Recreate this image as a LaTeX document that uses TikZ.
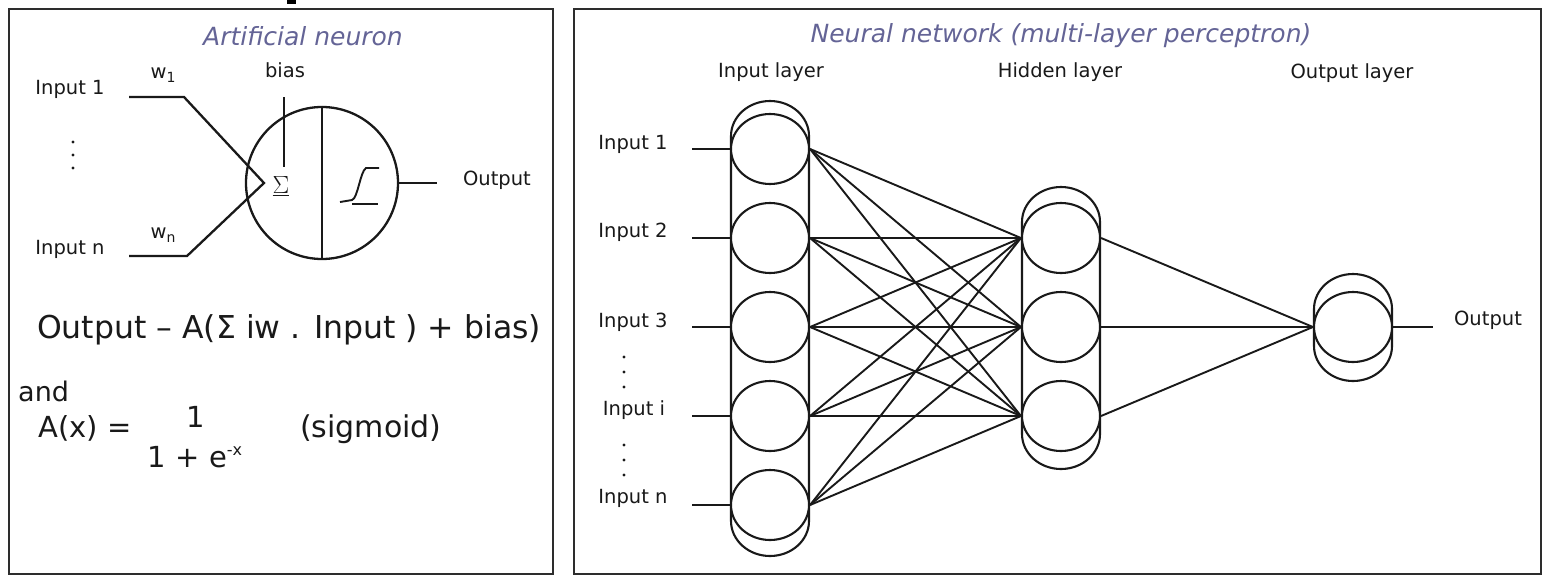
\documentclass[tikz,border=0pt]{standalone}
\usepackage{fontspec}
\setmainfont{DejaVu Sans}
\usetikzlibrary{shapes.geometric}
\definecolor{titlecol}{RGB}{100,100,150}
\definecolor{framecol}{RGB}{45,45,45}
\definecolor{inkcol}{RGB}{25,25,25}
\newcommand{\subsc}[1]{\raisebox{-4pt}{\fontsize{14}{14}\selectfont #1}}
\begin{document}
\begin{tikzpicture}[x=1pt,y=-1pt,
  panel/.style={draw=framecol, line width=2.6pt},
  wire/.style={draw=inkcol, line width=1.9pt},
  thickwire/.style={draw=inkcol, line width=2.3pt},
  neuron/.style={ellipse, draw=inkcol, line width=2.1pt, fill=white, minimum width=78pt, minimum height=70pt, inner sep=0pt},
  lbl/.style={font=\fontsize{19.5}{22}\selectfont, text=inkcol, inner sep=0pt},
  ttl/.style={font=\fontsize{25}{28}\selectfont\itshape, text=titlecol, inner sep=0pt},
  formula/.style={font=\fontsize{31.5}{34}\selectfont, text=inkcol, inner sep=0pt, anchor=base west},
  dot/.style={circle, fill=inkcol, inner sep=0pt, minimum size=3.2pt}]
\useasboundingbox (0,0) rectangle (1544,576);
\fill[white] (0,0) rectangle (1544,576);
\fill[black] (287,0) rectangle (296,4);

% ---------------- left panel ----------------
\draw[panel] (9,9) rectangle (553,574);
\node[ttl] (t1) at (303,36) {Artificial neuron};

\node[circle, draw=inkcol, line width=2.3pt, minimum size=152pt, inner sep=0pt] (neuron) at (322,183) {};
\draw[thickwire] (neuron.north) -- (neuron.south);

\node[lbl] (in1) at (70,89) {Input 1};
\node[lbl] (inn) at (70,249) {Input n};
\node[lbl] (w1) at (163,75) {w\subsc{1}};
\node[lbl] (wn) at (163,235) {w\subsc{n}};
\node[lbl] (bias) at (285,70) {bias};
\node[font=\fontsize{24}{26}\selectfont, text=inkcol, inner sep=0pt] (sum) at (281,186) {$\underline{\Sigma}$};
\node[lbl] (outl) at (497,180) {Output};

\coordinate (a1) at (129,97);
\coordinate (b1) at (184,97);
\coordinate (an) at (129,256);
\coordinate (bn) at (187,256);
\coordinate (tip) at (264,183);
\draw[thickwire] (a1) -- (b1) -- (tip) -- (bn) -- (an);
\coordinate (bt) at (284,97);
\coordinate (bb) at (284,167);
\draw[thickwire] (bt) -- (bb);
\coordinate (oe) at (437,183);
\draw[thickwire] (neuron.east) -- (oe);

\node[dot] (ld1) at (73,142) {};
\node[dot] (ld2) at (73,155) {};
\node[dot] (ld3) at (73,168) {};

% sigmoid symbol
\coordinate (s0) at (340,202);
\coordinate (s1) at (379,168);
\draw[wire] (s0) -- (352,200) .. controls (358,198) and (360,172) .. (366,168) -- (s1);
\coordinate (x0) at (352,204);
\coordinate (x1) at (378,204);
\draw[line width=1.2pt, inkcol] (x0) -- (x1);

% formulas
\node[formula] (f1) at (37,338) {Output – A(Σ iw . Input ) + bias)};
\node[formula, font=\fontsize{27}{30}\selectfont] (fand) at (18,401) {and};
\node[formula, font=\fontsize{29}{32}\selectfont] (fa) at (38,437) {A(x) =};
\node[formula, font=\fontsize{29}{32}\selectfont, anchor=base] (fnum) at (196,427) {1};
\node[formula, font=\fontsize{29}{32}\selectfont, anchor=base] (fden) at (195,467) {1 + e\raisebox{12pt}{\fontsize{16}{16}\selectfont -x}};
\node[formula, font=\fontsize{30}{33}\selectfont] (fsig) at (300,437) {(sigmoid)};

% ---------------- right panel ----------------
\draw[panel] (574,9) rectangle (1541,574);
\node[ttl] (t2) at (1061,36) {Neural network (multi-layer perceptron)};
\node[lbl] (lin) at (771,72) {Input layer};
\node[lbl] (lhid) at (1060,72) {Hidden layer};
\node[lbl] (lout) at (1352,73) {Output layer};

% layer outlines
\draw[wire, line width=2.1pt] (731,136) arc[start angle=180,end angle=0,x radius=39pt,y radius=35pt] -- (809,521) arc[start angle=0,end angle=-180,x radius=39pt,y radius=35pt] -- cycle;
\draw[wire, line width=2.1pt] (1022,222) arc[start angle=180,end angle=0,x radius=39pt,y radius=35pt] -- (1100,434) arc[start angle=0,end angle=-180,x radius=39pt,y radius=35pt] -- cycle;
\draw[wire, line width=2.1pt] (1314,309) arc[start angle=180,end angle=0,x radius=39pt,y radius=35pt] -- (1392,346) arc[start angle=0,end angle=-180,x radius=39pt,y radius=35pt] -- cycle;

% neurons
\node[neuron] (i1) at (770,149) {};
\node[neuron] (i2) at (770,238) {};
\node[neuron] (i3) at (770,327) {};
\node[neuron] (i4) at (770,416) {};
\node[neuron] (i5) at (770,505) {};
\node[neuron] (h1) at (1061,238) {};
\node[neuron] (h2) at (1061,327) {};
\node[neuron] (h3) at (1061,416) {};
\node[neuron] (o1) at (1353,327) {};

% connections
\foreach \a in {i1,i2,i3,i4,i5}{
  \foreach \b in {h1,h2,h3}{
    \draw[wire] (\a.east) -- (\b.west);
  }
}
\foreach \b in {h1,h2,h3}{
  \draw[wire] (\b.east) -- (o1.west);
}

% input labels and lines
\node[lbl] (r1) at (633,144) {Input 1};
\node[lbl] (r2) at (633,232) {Input 2};
\node[lbl] (r3) at (633,322) {Input 3};
\node[lbl] (r4) at (634,410) {Input i};
\node[lbl] (r5) at (633,498) {Input n};
\coordinate (c1) at (692,149);
\coordinate (c2) at (692,238);
\coordinate (c3) at (692,327);
\coordinate (c4) at (692,416);
\coordinate (c5) at (692,505);
\draw[wire] (c1) -- (i1.west);
\draw[wire] (c2) -- (i2.west);
\draw[wire] (c3) -- (i3.west);
\draw[wire] (c4) -- (i4.west);
\draw[wire] (c5) -- (i5.west);

\node[dot] (rd1) at (624,357) {};
\node[dot] (rd2) at (624,372) {};
\node[dot] (rd3) at (624,387) {};
\node[dot] (rd4) at (624,445) {};
\node[dot] (rd5) at (624,460) {};
\node[dot] (rd6) at (624,475) {};

\coordinate (oo) at (1433,327);
\draw[wire] (o1.east) -- (oo);
\node[lbl] (rout) at (1488,320) {Output};
\end{tikzpicture}
\end{document}
